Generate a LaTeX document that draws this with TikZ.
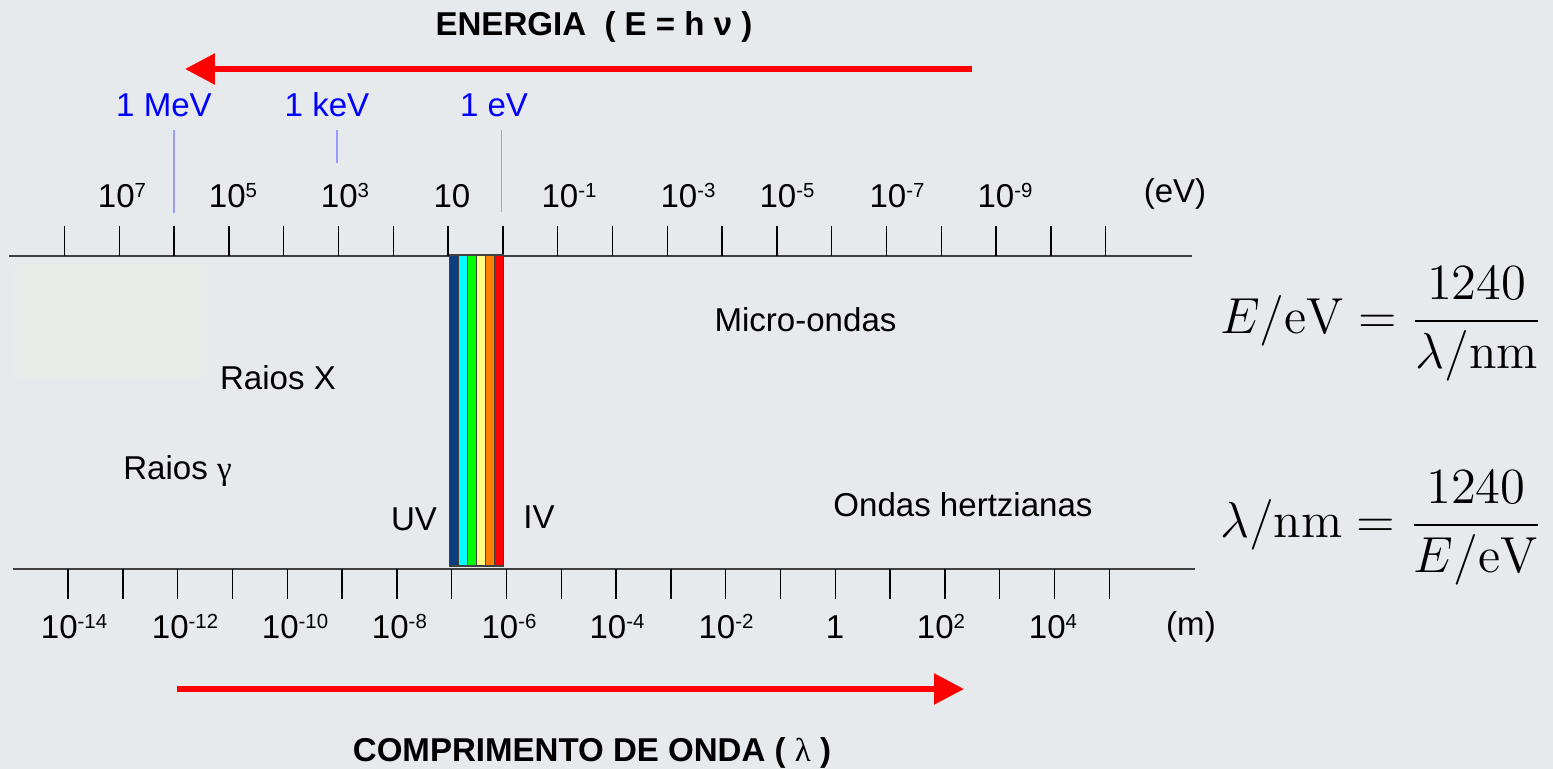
\documentclass[tikz,border=0pt]{standalone}
\usepackage[no-math]{fontspec}
\setmainfont{Liberation Sans}
\newfontfamily\symfont{Liberation Serif}
\usetikzlibrary{arrows.meta}
\usepackage{xcolor}
\definecolor{bggray}{HTML}{E6EAEC}
\definecolor{palebox}{HTML}{E8ECE8}
\definecolor{axgray}{HTML}{404040}
\definecolor{evblue}{HTML}{0000FF}
\definecolor{mkblue}{HTML}{9A9AFF}
\definecolor{vsblue}{HTML}{0B3F7D}
\definecolor{vscyan}{HTML}{00FFFF}
\definecolor{vsgreen}{HTML}{00FF00}
\definecolor{vsyellow}{HTML}{FFFF80}
\definecolor{vsorange}{HTML}{FF8000}
\definecolor{vsred}{HTML}{FF0000}
\newcommand\tpow[1]{10\raisebox{2.6pt}{\fontsize{5.8}{6}\selectfont #1}}
\tikzset{
  axis/.style={line width=0.4pt, draw=axgray},
  tickmark/.style={line width=0.35pt, draw=black},
  ticklbl/.style={anchor=base, inner sep=0pt, font=\fontsize{9.4}{11}\selectfont},
  bandlbl/.style={anchor=base, inner sep=0pt, font=\fontsize{9.4}{11}\selectfont},
  evlbl/.style={anchor=base, inner sep=0pt, text=evblue, font=\fontsize{9.4}{11}\selectfont},
  evmark/.style={line width=0.3pt, draw=mkblue},
  axtitle/.style={anchor=base, inner sep=0pt, font=\bfseries\fontsize{9.4}{11}\selectfont},
  bigarrow/.style={line width=1.6pt, draw=vsred, -{Triangle[length=8.5pt, width=8.5pt]}},
  stripe/.style={line width=0.4pt, draw=axgray},
  formula/.style={anchor=east, inner sep=0pt, font=\fontsize{13.7}{16}\selectfont},
}

\begin{document}
\begin{tikzpicture}[x=0.01cm, y=-0.01cm]
  % Fundo 1553 x 769
  \fill[bggray] (0,0) rectangle (1553,769);
  \useasboundingbox (0,0) rectangle (1553,769);
  \fill[palebox] (13,265) rectangle (207,379);
  % Energia: titulo e seta
  \node[axtitle] (entitle) at (594,35.7) {ENERGIA\ \ ( E = h ν )};
  \coordinate (enstart) at (972,69);
  \coordinate (enend) at (185,69);
  \draw[bigarrow] (enstart) -- (enend);
  % 1 MeV, 1 keV, 1 eV
  \node[evlbl] (mev) at (164,116.7) {1 MeV};
  \node[evlbl] (kev) at (327,116.7) {1 keV};
  \node[evlbl] (ev) at (494,116.7) {1 eV};
  \draw[evmark] (174,130) -- (174,213);
  \draw[evmark] (337,130) -- (337,163);
  \draw[evmark] (501.5,130) -- (501.5,212);
  % Escala de energia (eV)
  \draw[axis] (9,256) -- (1192,256);
  \foreach \k in {0,...,19}
    \draw[tickmark] ({64.5+54.8*\k},226) -- ({64.5+54.8*\k},256);
  \foreach \x/\t [count=\i] in {122/\tpow{7}, 233/\tpow{5}, 345/\tpow{3}, 452/10,
      569/\tpow{-1}, 688/\tpow{-3}, 787/\tpow{-5}, 897/\tpow{-7}, 1005/\tpow{-9}}
    \node[ticklbl] (e\i) at (\x,207) {\t};
  \node[ticklbl] (eunit) at (1175,202) {(eV)};
  % Espectro visivel
  \foreach \c [count=\i from 0] in {vsblue,vscyan,vsgreen,vsyellow,vsorange,vsred}
    \filldraw[stripe, fill=\c] ({449.3+9.07*\i},255) rectangle ({449.3+9.07*(\i+1)},566);
  % Regioes
  \node[bandlbl] (micro) at (805.5,331.7) {Micro-ondas};
  \node[bandlbl] (raiosx) at (278,389.3) {Raios X};
  \node[bandlbl] (raiosg) at (177.5,479.3) {Raios {\symfont γ}};
  \node[bandlbl] (uv) at (414,530) {UV};
  \node[bandlbl] (iv) at (539,528) {IV};
  \node[bandlbl] (hertz) at (963,516) {Ondas hertzianas};
  % Escala de comprimento de onda (m)
  \draw[axis] (13,569) -- (1195,569);
  \foreach \k in {0,...,19}
    \draw[tickmark] ({68.1+54.8*\k},569) -- ({68.1+54.8*\k},599);
  \foreach \x/\t [count=\i] in {74/\tpow{-14}, 185/\tpow{-12}, 295/\tpow{-10}, 399.4/\tpow{-8},
      509/\tpow{-6}, 617/\tpow{-4}, 726/\tpow{-2}, 835/1, 941/\tpow{2}, 1053/\tpow{4}}
    \node[ticklbl] (w\i) at (\x,638) {\t};
  \node[ticklbl] (wunit) at (1191,635) {(m)};
  % Comprimento de onda: seta e titulo
  \coordinate (wlstart) at (177,689);
  \coordinate (wlend) at (964,689);
  \draw[bigarrow] (wlstart) -- (wlend);
  \node[axtitle] (wltitle) at (592,761.7) {COMPRIMENTO DE ONDA ( {\mdseries\symfont λ} )};
  % Relacoes E <-> lambda
  \node[formula] (feq) at (1543,324) {$E/\mathrm{eV}=\displaystyle\frac{1240}{\lambda/\mathrm{nm}}$};
  \node[formula] (leq) at (1543,528) {$\lambda/\mathrm{nm}=\displaystyle\frac{1240}{E/\mathrm{eV}}$};
\end{tikzpicture}
\end{document}
